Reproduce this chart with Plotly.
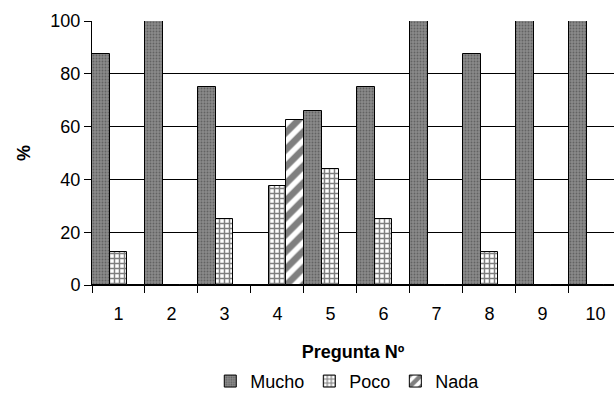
import plotly.graph_objects as go

categories = ["1", "2", "3", "4", "5", "6", "7", "8", "9", "10"]
mucho = [87.5, 100, 75, 0, 66, 75, 100, 87.5, 100, 100]
poco = [12.5, 0, 25, 37.5, 44, 25, 0, 12.5, 0, 0]
nada = [0, 0, 0, 62.5, 0, 0, 0, 0, 0, 0]

FONT = "Liberation Sans, Arial, sans-serif"
FS = 18

fig = go.Figure()
fig.add_trace(go.Bar(
    name="Mucho", x=categories, y=mucho,
    marker=dict(color="#8a8a8a", line=dict(color="black", width=1),
                pattern=dict(shape=".", fgcolor="#3a3a3a", size=3, solidity=0.3, fillmode="overlay")),
))
fig.add_trace(go.Bar(
    name="Poco", x=categories, y=poco,
    marker=dict(color="white", line=dict(color="black", width=1),
                pattern=dict(shape="+", fgcolor="black", size=5, solidity=0.5, fillmode="overlay")),
))
fig.add_trace(go.Bar(
    name="Nada", x=categories, y=nada,
    marker=dict(color="white", line=dict(color="black", width=1),
                pattern=dict(shape="/", fgcolor="black", size=12, solidity=0.55, fillmode="overlay")),
))

fig.update_layout(
    width=614, height=402,
    margin=dict(l=92, r=0, t=21, b=117),
    barmode="group", bargap=0, bargroupgap=0,
    plot_bgcolor="white", paper_bgcolor="white",
    font=dict(family=FONT, size=FS, color="black"),
    showlegend=True,
    legend=dict(orientation="h", x=0.49, xanchor="center", y=-0.365, yanchor="middle",
                font=dict(size=FS), itemwidth=30, tracegroupgap=0),
    xaxis=dict(
        type="category", range=[-0.5, 9.35], automargin=False,
        tickson="boundaries", ticks="outside", ticklen=7, tickcolor="black",
        showline=True, linecolor="black", linewidth=1,
        showgrid=False, ticklabelstandoff=12,
        title=dict(text="<b>Pregunta Nº</b>", font=dict(size=FS), standoff=22),
    ),
    yaxis=dict(
        range=[0, 100], tickvals=[0, 20, 40, 60, 80, 100], automargin=False,
        ticks="outside", ticklen=7, tickcolor="black",
        showline=True, linecolor="black", linewidth=1,
        showgrid=True, gridcolor="black", gridwidth=1,
        zeroline=False,
        title=dict(text="<b>%</b>", font=dict(size=FS)),
    ),
)

fig.write_html("out.html", config={"displayModeBar": False},
               post_script="document.body.style.margin='0';")
